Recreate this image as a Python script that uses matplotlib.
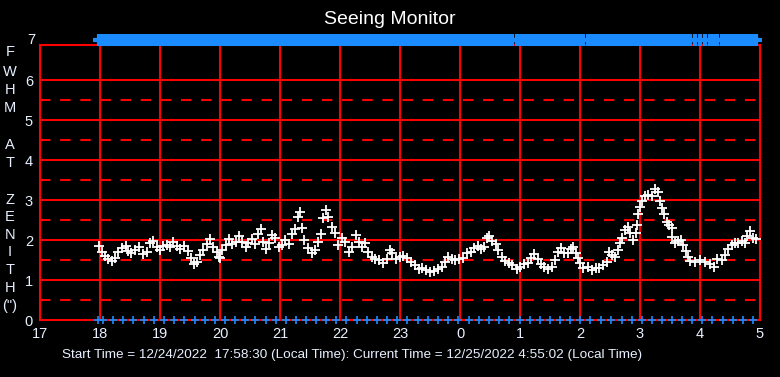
import matplotlib
matplotlib.use("Agg")
import matplotlib.pyplot as plt
import matplotlib.transforms as mtransforms

plt.rcParams['font.family'] = ['Liberation Sans', 'DejaVu Sans']
plt.rcParams['lines.scale_dashes'] = False

# seeing samples: local time in hours (24+ = after midnight), FWHM in arcsec
times = [17.983, 18.028, 18.083, 18.138, 18.195, 18.25, 18.305, 18.362, 18.428, 18.472,
         18.517, 18.583, 18.65, 18.722, 18.778, 18.833, 18.888, 18.945, 19.0, 19.055,
         19.112, 19.167, 19.222, 19.278, 19.333, 19.405, 19.462, 19.517, 19.562, 19.612,
         19.667, 19.722, 19.778, 19.833, 19.888, 19.945, 19.983,
         20.0, 20.038, 20.095, 20.15, 20.205, 20.262, 20.317, 20.372, 20.428, 20.472,
         20.528, 20.583, 20.638, 20.678, 20.722, 20.762, 20.817, 20.862, 20.917, 20.983,
         21.028, 21.083, 21.15, 21.205, 21.25, 21.305, 21.333, 21.372, 21.405, 21.462,
         21.528, 21.583, 21.638, 21.683, 21.722, 21.762, 21.805, 21.862, 21.917, 21.972,
         22.028, 22.083, 22.15, 22.205, 22.262, 22.317, 22.372, 22.417, 22.472, 22.528,
         22.583, 22.65, 22.722, 22.778, 22.833, 22.872, 22.928, 23.0, 23.055, 23.112,
         23.183, 23.25, 23.317, 23.372, 23.428, 23.5, 23.572, 23.638, 23.695, 23.75,
         23.805, 23.862, 23.917, 23.983, 24.055, 24.112, 24.183, 24.238, 24.295, 24.35,
         24.405, 24.445, 24.488, 24.538, 24.595, 24.638, 24.695, 24.75, 24.817, 24.872,
         24.945, 25.0, 25.072, 25.138, 25.183, 25.238, 25.295, 25.35, 25.405, 25.462,
         25.528, 25.583, 25.638, 25.683, 25.738, 25.795, 25.85, 25.888, 25.928, 25.972,
         26.0, 26.055, 26.128, 26.195, 26.262, 26.317, 26.388, 26.445, 26.483, 26.528,
         26.583, 26.628, 26.667, 26.705, 26.75, 26.795, 26.833, 26.888, 26.928, 26.945,
         26.972, 27.0, 27.028, 27.083, 27.138, 27.195, 27.25, 27.295, 27.333, 27.372,
         27.405, 27.445, 27.488, 27.528, 27.538, 27.583, 27.638, 27.683, 27.722, 27.762,
         27.795, 27.833, 27.917, 28.0, 28.083, 28.167, 28.233, 28.288, 28.362, 28.417,
         28.472, 28.528, 28.583, 28.638, 28.695, 28.75, 28.788, 28.833, 28.878, 28.933]
fwhm = [1.86, 1.71, 1.61, 1.53, 1.47, 1.55, 1.70, 1.81, 1.86, 1.73,
        1.67, 1.75, 1.83, 1.64, 1.71, 1.92, 1.97, 1.83, 1.75, 1.86,
        1.87, 1.83, 1.96, 1.86, 1.77, 1.86, 1.73, 1.56, 1.39, 1.46,
        1.63, 1.75, 1.89, 2.03, 1.83, 1.71, 1.58,
        1.54, 1.75, 1.87, 2.03, 1.89, 1.96, 2.11, 1.94, 1.83, 1.92,
        2.03, 1.89, 2.14, 2.28, 1.96, 1.77, 1.92, 2.13, 2.04, 1.83,
        1.87, 2.00, 1.89, 2.14, 2.28, 2.58, 2.69, 2.29, 2.00, 1.79,
        1.67, 1.75, 1.96, 2.14, 2.56, 2.75, 2.58, 2.32, 2.17, 1.87,
        2.04, 1.96, 1.71, 1.83, 2.13, 1.96, 1.83, 1.92, 1.71, 1.57,
        1.52, 1.50, 1.43, 1.52, 1.75, 1.68, 1.52, 1.57, 1.60, 1.54,
        1.46, 1.38, 1.27, 1.29, 1.25, 1.21, 1.23, 1.27, 1.33, 1.46,
        1.58, 1.52, 1.50, 1.52, 1.54, 1.67, 1.71, 1.79, 1.85, 1.77,
        1.83, 2.04, 2.10, 1.98, 1.90, 1.75, 1.58, 1.48, 1.42, 1.38,
        1.27, 1.33, 1.40, 1.43, 1.54, 1.65, 1.52, 1.40, 1.32, 1.27,
        1.33, 1.50, 1.71, 1.79, 1.67, 1.68, 1.77, 1.82, 1.68, 1.54,
        1.42, 1.31, 1.33, 1.25, 1.29, 1.31, 1.38, 1.44, 1.69, 1.63,
        1.58, 1.75, 1.92, 2.06, 2.25, 2.33, 2.17, 2.00, 2.17, 2.38,
        2.64, 2.83, 2.98, 3.11, 3.13, 3.11, 3.28, 3.21, 2.98, 2.79,
        2.64, 2.46, 2.38, 2.29, 2.08, 1.92, 1.98, 2.00, 1.87, 1.73,
        1.58, 1.47, 1.46, 1.50, 1.46, 1.40, 1.33, 1.52, 1.50, 1.63,
        1.77, 1.87, 1.93, 1.92, 1.98, 1.93, 2.10, 2.23, 2.04, 2.02]

# blue markers along the bottom, minutes after 17:00
bottom_minutes = [58, 63, 73, 83, 93, 104, 114, 124, 134, 144, 155, 165, 175, 185, 195,
                  205, 215, 226, 236, 246, 256, 266, 276, 286, 296, 306, 317, 327, 337,
                  347, 357, 367, 378, 388, 398, 408, 418, 429, 439, 449, 459, 469, 480,
                  490, 500, 510, 520, 530, 540, 550, 561, 571, 582, 592, 602, 612, 622,
                  632, 642, 652, 662, 672, 683, 693, 703, 713]

hour_ticks = [17, 18, 19, 20, 21, 22, 23, 24, 25, 26, 27, 28, 29]
hour_labels = ['17', '18', '19', '20', '21', '22', '23', '0', '1', '2', '3', '4', '5']
ylabel_letters = ['F', 'W', 'H', 'M', 'A', 'T', 'Z', 'E', 'N', 'I', 'T', 'H', '(")']
ylabel_rows = [52, 72, 90, 108, 145, 163, 200, 217, 235, 252, 270, 288, 306]

RED = '#ff0000'
BLUE = '#1a8cff'
TXT = '#e8f0ff'

fig = plt.figure(figsize=(7.8, 3.77), dpi=100, facecolor='black')
ax = fig.add_axes([40 / 780, 57 / 377, 720 / 780, 275 / 377])
ax.set_facecolor('black')
ax.set_xlim(17, 29)
ax.set_ylim(0, 6.875)

for h in hour_ticks:
    ax.axvline(h, color=RED, lw=1.5, zorder=1)
for v in range(1, 7):
    ax.axhline(v, color=RED, lw=1.5, zorder=1)
    ax.axhline(v - 0.5, color=RED, lw=1.5, dashes=(7.5, 7.0), zorder=1)
for s in ax.spines.values():
    s.set_color(RED)
    s.set_linewidth(1.5)

ax.plot(times, fwhm, ls='none', marker='+', color='white', ms=6.5, mew=1.3, zorder=3)
ax.plot(times, [7] * len(times), ls='none', marker='+', color=BLUE, ms=9, mew=3,
        clip_on=False, zorder=3)
ax.plot([17 + m / 60 for m in bottom_minutes], [0] * len(bottom_minutes), ls='none',
        marker='+', color=BLUE, ms=6, mew=1.2, clip_on=False, zorder=3)

ax.set_xticks(hour_ticks)
ax.set_xticklabels(hour_labels)
ax.set_yticks(range(0, 7))
ax.tick_params(length=0, colors=TXT, labelsize=10.5)
ax.tick_params(axis='x', pad=5)
ax.tick_params(axis='y', pad=5)
trans = mtransforms.blended_transform_factory(ax.transAxes, ax.transData)
ax.text(-5 / 720, 7, '7', transform=trans, ha='right', va='center', color=TXT,
        fontsize=10.5, clip_on=False)

for letter, row in zip(ylabel_letters, ylabel_rows):
    fig.text(10 / 780, 1 - row / 377, letter, ha='center', va='center', color=TXT,
             fontsize=10.5)

fig.text(0.5, 1 - 20 / 377, 'Seeing Monitor', ha='center', va='center', color='white',
         fontsize=14)
fig.text(62 / 780, 1 - 355 / 377,
         'Start Time = 12/24/2022  17:58:30 (Local Time): Current Time = 12/25/2022 4:55:02 (Local Time)',
         ha='left', va='center', color=TXT, fontsize=9.7)

fig.savefig('out.png', dpi=100, facecolor='black')
